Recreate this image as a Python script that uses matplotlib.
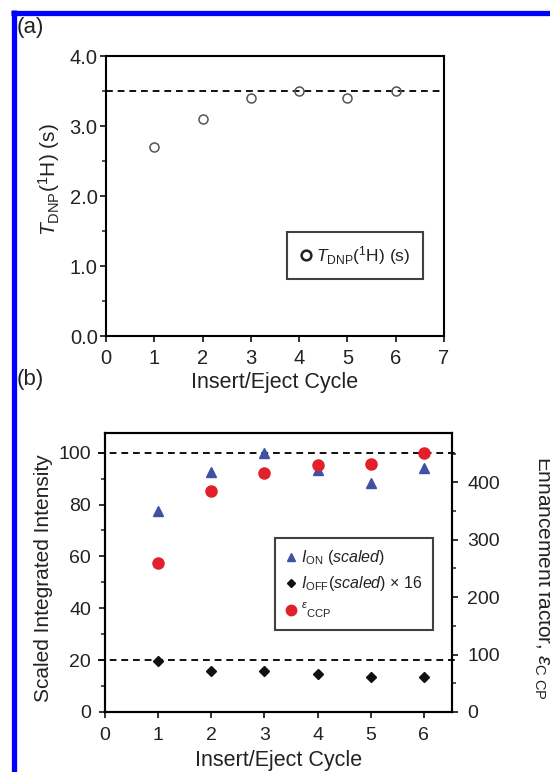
import matplotlib
matplotlib.use("Agg")

font = {'family': 'Liberation Sans',
        'size': 13}

matplotlib.rcParams['mathtext.fontset'] = 'custom'
matplotlib.rcParams['mathtext.rm'] = 'Liberation Sans'
matplotlib.rcParams['mathtext.it'] = 'Liberation Sans:italic'
matplotlib.rcParams['mathtext.bf'] = 'Liberation Sans:bold'
matplotlib.rc('font', **font)

import matplotlib.pyplot as plt
from matplotlib.lines import Line2D

# panel (a)
cycles_a = [1, 2, 3, 4, 5, 6]
t_dnp = [2.7, 3.1, 3.4, 3.5, 3.4, 3.5]
t_dnp_ref = 3.5

# panel (b)
cycles_b = [1, 2, 3, 4, 5, 6]
i_on = [77.6, 92.5, 100.0, 93.5, 88.5, 94.0]
i_off = [19.8, 15.9, 15.9, 14.5, 13.6, 13.6]
eps_ccp = [260, 385, 416, 430, 432, 452]
ref_lines_b = [100, 20]

W, H = 550, 772
fig = plt.figure(figsize=(W / 100, H / 100), dpi=100)
txt = '#222222'


def box(l, t, r, b):
    return [l / W, 1 - b / H, (r - l) / W, (b - t) / H]


def style(ax):
    for s in ax.spines.values():
        s.set_linewidth(1.5)
    ax.tick_params(which='major', direction='out', length=4, width=1.3,
                   color=txt, labelcolor=txt)
    ax.tick_params(which='minor', direction='out', length=3, width=1.1,
                   color=txt)


# ---- (a) ----
ax1 = fig.add_axes(box(106, 56, 444, 336))
ax1.plot(cycles_a, t_dnp, 'o', mfc='none', mec='#555555', mew=1.1, ms=6.5,
         zorder=3)
ax1.axhline(t_dnp_ref, color='#111111', ls=(0, (3.5, 2.5)), lw=1.4)
ax1.set_xlim(0, 7)
ax1.set_ylim(0, 4)
ax1.set_xticks(range(0, 8))
ax1.set_yticks([0, 1, 2, 3, 4])
ax1.set_yticklabels(['0.0', '1.0', '2.0', '3.0', '4.0'])
ax1.set_yticks([0.5, 1.5, 2.5, 3.5], minor=True)
ax1.set_xlabel('Insert/Eject Cycle', fontsize=15.5, color=txt, labelpad=3)
ax1.set_ylabel(r'$T_{\rm DNP}$($^{\rm 1}$H) (s)', fontsize=15, color=txt)
ax1.yaxis.set_label_coords(-0.13, 0.557)
style(ax1)
ax1.tick_params(axis='both', labelsize=14.5)
ax1.tick_params(axis='x', pad=5)
ax1.tick_params(axis='y', pad=2)
h = [Line2D([], [], ls='none', marker='o', mfc='none', mec='#222222',
            mew=1.8, ms=7)]
leg1 = ax1.legend(h, [r'$T_{\rm DNP}$($^{\rm 1}$H) (s)'], loc='upper left',
                  bbox_to_anchor=(0.535, 0.371), fancybox=False,
                  edgecolor='#111111', fontsize=12.5, handletextpad=0.2,
                  handlelength=0.8, borderpad=0.7, borderaxespad=0)
leg1.get_frame().set_linewidth(1.5)
for t in leg1.get_texts():
    t.set_color(txt)

# ---- (b) ----
ax2 = fig.add_axes(box(105, 433, 452, 712))
ax3 = ax2.twinx()
ax2.plot(cycles_b, i_on, '^', color='#3f51a3', ms=7, ls='none', zorder=3)
ax2.plot(cycles_b, i_off, 'D', color='#111111', ms=5, ls='none', zorder=3)
ax3.plot(cycles_b, eps_ccp, 'o', color='#e2202a', ms=8, ls='none', zorder=3)
for v in ref_lines_b:
    ax2.axhline(v, xmin=-0.02, xmax=1.02, clip_on=False, color='#111111',
                ls=(0, (3.5, 2.5)), lw=1.4)
ax2.set_xlim(0, 6.53)
ax2.set_ylim(0, 107.6)
ax3.set_ylim(0, 486)
ax2.set_xticks(range(0, 7))
ax2.set_yticks(range(0, 101, 20))
ax2.set_yticks(range(10, 101, 20), minor=True)
ax3.set_yticks(range(0, 401, 100))
ax3.set_yticks(range(50, 451, 100), minor=True)
ax2.set_xlabel('Insert/Eject Cycle', fontsize=15.5, color=txt, labelpad=4)
ax2.set_ylabel('Scaled Integrated Intensity', fontsize=15, color=txt)
ax2.yaxis.set_label_coords(-0.15, 0.48)
style(ax2)
style(ax3)
ax2.tick_params(axis='both', labelsize=14)
ax2.tick_params(axis='x', pad=7)
ax2.tick_params(axis='y', pad=6)
ax3.tick_params(axis='y', labelsize=14, pad=7)

handles = [Line2D([], [], ls='none', marker='^', color='#3f51a3', ms=5.5),
           Line2D([], [], ls='none', marker='D', color='#111111', ms=4),
           Line2D([], [], ls='none', marker='o', color='#e2202a', ms=7.5)]
labels = [r'$I_{\rm ON}$ $\mathit{(scaled)}$',
          r'$I_{\rm OFF}$$\mathit{(scaled)}$ $\times$ 16',
          r'$^{\varepsilon}$$_{\rm CCP}$']
leg2 = ax2.legend(handles, labels, loc='upper left',
                  bbox_to_anchor=(0.49, 0.624), fancybox=False,
                  edgecolor='#111111', fontsize=11.5, handletextpad=0.3,
                  handlelength=0.7, borderpad=0.65, labelspacing=0.45,
                  borderaxespad=0)
leg2.get_frame().set_linewidth(1.5)
for t in leg2.get_texts():
    t.set_color(txt)

fig.text(532 / W, 1 - 578 / H, r'Enhancement factor, $\varepsilon_{\rm C\ CP}$',
         rotation=270, ha='left', va='center', fontsize=15, color=txt)

fig.text(17 / W, 1 - 28 / H, '(a)', fontsize=16, va='center', ha='left',
         color=txt)
fig.text(17 / W, 1 - 380 / H, '(b)', fontsize=16, va='center', ha='left',
         color=txt)

# blue frame (top and left edges only)
fig.add_artist(Line2D([11 / W, 1], [1 - 12.5 / H, 1 - 12.5 / H],
                      color='#0000ff', lw=3.8, solid_capstyle='butt'))
fig.add_artist(Line2D([13.5 / W, 13.5 / W], [0, 1 - 10 / H],
                      color='#0000ff', lw=3.8, solid_capstyle='butt'))

fig.savefig('out.png', dpi=100)
